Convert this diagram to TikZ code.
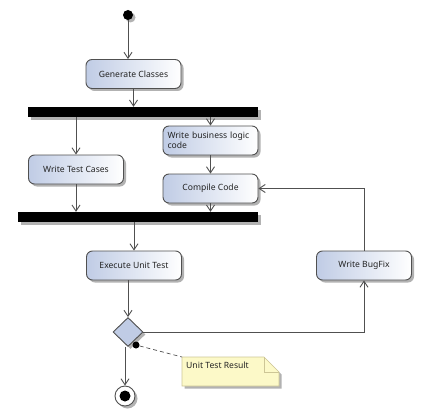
\documentclass[tikz,border=0pt]{standalone}
\usepackage{fontspec}
\setmainfont{Noto Sans}
\usetikzlibrary{arrows.meta,shapes.geometric,shadows,calc}
\definecolor{boxblue}{RGB}{192,204,229}
\definecolor{linegray}{RGB}{80,80,80}
\definecolor{notefill}{RGB}{252,249,200}
\definecolor{noteedge}{RGB}{205,198,150}
\definecolor{txt}{RGB}{35,35,35}
\begin{document}
\begin{tikzpicture}[x=1pt,y=-1pt,
  shd/.style={drop shadow={shadow xshift=2.5pt,shadow yshift=-2.5pt,opacity=0.3,fill=black}},
  lbl/.style={font=\fontsize{8.6}{10}\selectfont, text=txt},
  act/.style={draw=linegray, line width=0.9pt, rounded corners=6pt, left color=boxblue, right color=white,
    minimum width=95pt, minimum height=29pt, inner sep=2pt, lbl, shd},
  bar/.style={fill=black, minimum height=10pt, inner sep=0pt, shd},
  flow/.style={draw=linegray, line width=0.9pt, -{Straight Barb[length=6pt,width=8pt]}},
]
\useasboundingbox (0,0) rectangle (422,417);
% nodes
\node[circle, fill=black, minimum size=10pt, inner sep=0pt, shd] (start) at (128,15) {};
\node[act] (gen) at (133.5,74) {Generate Classes};
\node[bar, minimum width=230pt] (topbar) at (143,112) {};
\node[act, text width=86pt, align=left] (wbl) at (210.5,140.5) {Write business logic\\code};
\node[act] (wtc) at (76,169.5) {Write Test Cases};
\node[act] (cc) at (210.5,188.5) {Compile Code};
\node[bar, minimum width=240pt] (botbar) at (138,217) {};
\node[act] (eut) at (134,265.5) {Execute Unit Test};
\node[act] (bug) at (364,265.5) {Write BugFix};
\node[diamond, draw=linegray, line width=0.9pt, fill=boxblue, minimum width=30pt, minimum height=29pt, inner sep=0pt, shd] (dia) at (128,332) {};
\node[circle, draw=linegray, line width=0.9pt, fill=white, minimum size=20pt, inner sep=0pt, shd] (final) at (125,396) {};
\fill[black] (final.center) circle (5.5pt);
\node[circle, fill=black, minimum size=7pt, inner sep=0pt] (dot) at (136,345) {};
% note
\path[fill=notefill, draw=noteedge, line width=0.6pt, shd] (182,357) -- (264,357) -- (279,372) -- (279,386) -- (182,386) -- cycle;
\draw[noteedge, line width=0.6pt] (264,357) -- (264,372) -- (279,372);
\coordinate (notecorner) at (182,357);
\node[anchor=west, lbl, inner sep=0pt] (notetext) at (186,365.5) {Unit Test Result};
% connectors
\draw[flow] (start.south) -- (start.south |- gen.north);
\draw[flow] (gen.south) -- (gen.south |- topbar.north);
\draw[flow] (wbl.north |- topbar.south) -- (wbl.north);
\draw[flow] (wtc.north |- topbar.south) -- (wtc.north);
\draw[flow] (wbl.south) -- (cc.north);
\draw[flow] (wtc.south) -- (wtc.south |- botbar.north);
\draw[flow] (cc.south) -- (cc.south |- botbar.north);
\draw[flow] (eut.north |- botbar.south) -- (eut.north);
\draw[flow] (dia.north |- eut.south) -- (dia.north);
\draw[flow] (dia.east) -| (bug.south);
\draw[flow] (bug.north) |- (cc.east);
\draw[flow] (final.north |- dia.south) -- (final.north);
\draw[linegray, line width=0.7pt, dash pattern=on 4pt off 3pt] (dot) -- (notecorner);
\end{tikzpicture}
\end{document}
